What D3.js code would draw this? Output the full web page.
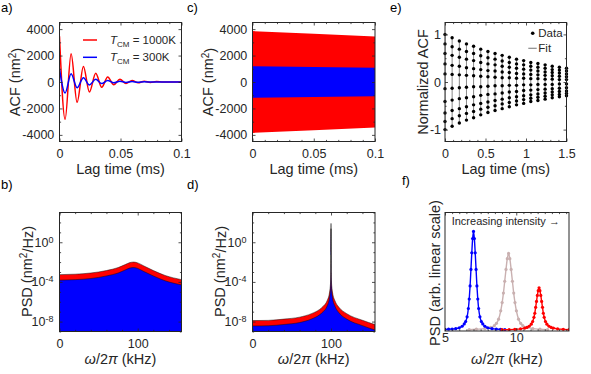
<!DOCTYPE html>
<html>
<head>
<meta charset="utf-8">
<script src="https://cdn.jsdelivr.net/npm/d3@7"></script>
<style>
  body { margin: 0; background: #fff; }
  svg { display: block; font-family: "Liberation Sans", Arial, sans-serif; }
</style>
</head>
<body>
<div id="chart"></div>
<script>
// 1: DATA

// a) ACF vs lag time, turning points of the two traces (ms, nm^2)
const acfLag  = [0, 0.0046, 0.0095, 0.0144, 0.0196, 0.0245, 0.0297, 0.0346, 0.0395, 0.0445,
                 0.0495, 0.0545, 0.0595, 0.0645, 0.0695, 0.0745, 0.0795, 0.085, 0.1];
const acfHot  = [3450, -2820, 2130, -1540, 1180, -760, 670, -400, 380, -210,
                 210, -115, 120, -60, 65, -30, 35, 0, 0];
const acfCold = [1000, -830, 620, -440, 330, -220, 200, -120, 110, -65,
                 60, -35, 35, -18, 18, -8, 8, 0, 0];

// c) envelope of the long-lived ACF (oscillation fills solid at this scale)
const envLag  = [0, 0.05, 0.1];
const envHot  = [3850, 3650, 3450];
const envCold = [1200, 1135, 1070];

// b) PSD, broad resonance (kHz, nm^2/Hz)
const freqB    = [0, 20, 40, 60, 75, 84, 90, 95, 100, 108, 120, 135, 156];
const psdHotB  = [5.4e-4, 6.0e-4, 7.9e-4, 1.4e-3, 2.8e-3, 5.6e-3, 8.9e-3, 1.0e-2, 8.3e-3, 4.0e-3, 1.4e-3, 4.5e-4, 1.7e-4];
const psdColdB = [1.5e-4, 1.7e-4, 2.2e-4, 4.0e-4, 7.9e-4, 1.6e-3, 2.5e-3, 2.8e-3, 2.3e-3, 1.1e-3, 4.0e-4, 1.3e-4, 5.0e-5];

// d) PSD, sharp resonance
const freqD    = [0, 20, 40, 60, 75, 85, 90, 95, 98, 99, 99.5, 99.8, 99.9, 99.97, 100,
                  100.03, 100.1, 100.2, 100.5, 101, 102, 105, 110, 120, 140, 156];
const psdHotD  = [1.26e-8, 1.32e-8, 1.78e-8, 2.8e-8, 6.3e-8, 1.6e-7, 3.5e-7, 1.26e-6, 7.9e-6, 3.2e-5, 1.26e-4, 7.9e-4, 3.2e-3, 0.1, 79,
                  0.1, 3.2e-3, 7.9e-4, 1.26e-4, 3.2e-5, 7.9e-6, 1.26e-6, 2.8e-7, 6.3e-8, 1.35e-8, 5.0e-9];
const psdColdD = [3.6e-9, 3.8e-9, 5.1e-9, 8.0e-9, 1.8e-8, 4.6e-8, 1.0e-7, 3.6e-7, 2.3e-6, 9.1e-6, 3.6e-5, 2.3e-4, 9.1e-4, 0.029, 23,
                  0.029, 9.1e-4, 2.3e-4, 3.6e-5, 9.1e-6, 2.3e-6, 3.6e-7, 8.0e-8, 1.8e-8, 3.9e-9, 1.4e-9];

// e) normalized ACF, samples grouped in one column per aliasing cycle
const eLag = [0, 0.088, 0.177, 0.265, 0.353, 0.441, 0.53, 0.618, 0.706,
              0.794, 0.883, 0.971, 1.059, 1.147, 1.236, 1.324, 1.412, 1.5];
const eCols = [
  [1.00, 0.80, 0.60, 0.38, 0.17, -0.14, -0.41, -0.65, -0.83, -1.00],
  [0.93, 0.74, 0.56, 0.35, 0.16, -0.13, -0.38, -0.60, -0.77, -0.93],
  [0.86, 0.69, 0.52, 0.33, 0.15, -0.12, -0.35, -0.56, -0.71, -0.86],
  [0.80, 0.64, 0.48, 0.30, 0.14, -0.11, -0.33, -0.52, -0.66, -0.80],
  [0.75, 0.60, 0.45, 0.28, 0.13, -0.10, -0.31, -0.48, -0.62, -0.75],
  [0.69, 0.55, 0.41, 0.26, 0.12, -0.10, -0.28, -0.45, -0.57, -0.69],
  [0.64, 0.51, 0.38, 0.24, 0.11, -0.09, -0.26, -0.42, -0.53, -0.64],
  [0.60, 0.48, 0.36, 0.23, 0.10, -0.08, -0.25, -0.39, -0.50, -0.60],
  [0.56, 0.44, 0.33, 0.21, 0.09, -0.08, -0.23, -0.36, -0.46, -0.56],
  [0.52, 0.41, 0.31, 0.20, 0.09, -0.07, -0.21, -0.33, -0.43, -0.52],
  [0.48, 0.38, 0.29, 0.18, 0.08, -0.07, -0.20, -0.31, -0.40, -0.48],
  [0.45, 0.36, 0.27, 0.17, 0.08, -0.06, -0.18, -0.29, -0.37, -0.45],
  [0.41, 0.33, 0.25, 0.16, 0.07, -0.06, -0.17, -0.27, -0.34, -0.41],
  [0.39, 0.31, 0.23, 0.15, 0.07, -0.05, -0.16, -0.25, -0.32, -0.39],
  [0.36, 0.29, 0.21, 0.14, 0.06, -0.05, -0.15, -0.23, -0.30, -0.36],
  [0.33, 0.26, 0.20, 0.13, 0.06, -0.05, -0.14, -0.21, -0.27, -0.33],
  [0.31, 0.25, 0.19, 0.12, 0.05, -0.04, -0.13, -0.20, -0.26, -0.31],
  [0.29, 0.23, 0.17, 0.11, 0.05, -0.04, -0.12, -0.19, -0.24, -0.29]
];

// f) three spectra, arbitrary linear units
const fBlueFreq  = [5.0, 5.25, 5.5, 5.75, 6.0, 6.2, 6.35, 6.45, 6.55, 6.64, 6.7, 6.76, 6.82, 6.88, 6.94, 7.0,
                    7.06, 7.12, 7.18, 7.24, 7.3, 7.36, 7.45, 7.55, 7.65, 7.8, 8.0, 8.3, 8.6, 8.9, 9.2];
const fBlueVal   = [0.013, 0.015, 0.017, 0.02, 0.027, 0.04, 0.06, 0.08, 0.12, 0.19, 0.27, 0.38, 0.52, 0.66, 0.78, 0.84,
                    0.78, 0.66, 0.52, 0.38, 0.27, 0.19, 0.12, 0.08, 0.06, 0.04, 0.027, 0.02, 0.016, 0.014, 0.012];
const fBrownFreq = [6.7, 7.2, 7.8, 8.2, 8.46, 8.61, 8.76, 8.91, 9.01, 9.1, 9.19, 9.28, 9.37, 9.46,
                    9.55, 9.64, 9.73, 9.82, 9.91, 10.01, 10.16, 10.31, 10.46, 10.76, 11.16, 11.66, 12.2];
const fBrownVal  = [0.012, 0.015, 0.02, 0.03, 0.045, 0.065, 0.10, 0.17, 0.24, 0.32, 0.42, 0.52, 0.61, 0.655,
                    0.61, 0.52, 0.42, 0.32, 0.24, 0.17, 0.10, 0.065, 0.045, 0.03, 0.02, 0.015, 0.012];
const fRedFreq   = [9.0, 9.5, 9.9, 10.3, 10.6, 10.75, 10.9, 11.05, 11.15, 11.24, 11.3, 11.36, 11.42, 11.48, 11.54, 11.6,
                    11.66, 11.72, 11.78, 11.84, 11.9, 11.96, 12.05, 12.15, 12.3, 12.45, 12.6, 12.9, 13.3, 13.7];
const fRedVal    = [0.011, 0.012, 0.014, 0.018, 0.025, 0.03, 0.04, 0.058, 0.08, 0.115, 0.15, 0.20, 0.25, 0.30, 0.34, 0.365,
                    0.34, 0.30, 0.25, 0.20, 0.15, 0.115, 0.08, 0.058, 0.04, 0.03, 0.025, 0.018, 0.014, 0.012];

// tick values
const acfTicksY = [-4000, -2000, 0, 2000, 4000];
const acfTicksX = [0, 0.05, 0.1];
const eTicksX   = [0, 0.5, 1, 1.5];
const eTicksY   = [-1, 0, 1];
const psdTicksY = [1e-8, 1e-4, 1];
const psdTicksX = [0, 100];
const fTicksX   = [5, 10];

// 2: SETUP
const ink = "#262626";
const red = "#ff0000", blue = "#0000ff", brown = "#c9b0b0", fitGray = "#8a8a8a";
const tickFont = 12.5, labelFont = 14.5;

const svg = d3.select("#chart").append("svg")
    .attr("width", 591)
    .attr("height", 374);

function makeAxes(id, box, xDomain, yDomain, logY) {
    const g = svg.append("g").attr("transform", `translate(${box.x},${box.y})`);
    const x = d3.scaleLinear().domain(xDomain).range([0, box.w]);
    const y = (logY ? d3.scaleLog() : d3.scaleLinear()).domain(yDomain).range([box.h, 0]);
    g.append("clipPath").attr("id", id)
        .append("rect").attr("width", box.w).attr("height", box.h);
    const plot = g.append("g").attr("clip-path", `url(#${id})`);
    return { g, plot, x, y, box };
}

// MATLAB-style box with inward ticks on all sides
function drawFrame(ax, o) {
    const { g, x, y, box } = ax;
    const sides = [
        [d3.axisBottom, x, `translate(0,${box.h})`, o.xMajor, o.xMinor],
        [d3.axisTop, x, null, o.xMajor, o.xMinor],
        [d3.axisLeft, y, null, o.yMajor, o.yMinor],
        [d3.axisRight, y, `translate(${box.w},0)`, o.yMajor, o.yMinor]
    ];
    sides.forEach(([axisFn, scale, at, major, minor]) => {
        [[major, 3], [minor, 1.6]].forEach(([vals, len]) => {
            if (!vals || !vals.length) return;
            const a = g.append("g").attr("transform", at)
                .call(axisFn(scale).tickValues(vals).tickSize(-len).tickFormat(""));
            a.select(".domain").remove();
            a.selectAll("line").attr("stroke", ink).attr("stroke-width", 0.8);
        });
    });
    g.append("rect")
        .attr("width", box.w).attr("height", box.h)
        .attr("fill", "none").attr("stroke", ink).attr("stroke-width", 1);
}

function tickLabels(ax, o) {
    const { g, x, y, box } = ax;
    if (o.xTicks) {
        const a = g.append("g").attr("transform", `translate(0,${box.h})`)
            .call(d3.axisBottom(x).tickValues(o.xTicks).tickSize(0).tickPadding(o.xPad).tickFormat(d => String(d)));
        a.select(".domain").remove();
        a.attr("font-size", null).attr("font-family", null);
        a.selectAll("text").attr("fill", ink).style("font-size", tickFont + "px");
    }
    if (o.yTicks) {
        const a = g.append("g")
            .call(d3.axisLeft(y).tickValues(o.yTicks).tickSize(0).tickPadding(o.yPad).tickFormat(d => String(d)));
        a.select(".domain").remove();
        a.attr("font-size", null).attr("font-family", null);
        a.selectAll("text").attr("fill", ink).style("font-size", tickFont + "px");
        if (o.logLabels) {
            a.selectAll(".tick text").each(function(d) {
                const t = d3.select(this).text(null);
                t.append("tspan").text("10");
                t.append("tspan").attr("dy", "-0.45em").style("font-size", "9px")
                    .text(String(Math.round(Math.log10(d))));
            });
        }
    }
}

// axis title with optional tspans: parts = [[text, style]]
function axisTitle(px, py, rotate, parts) {
    const t = svg.append("text")
        .attr("transform", `translate(${px},${py})` + (rotate ? " rotate(-90)" : ""))
        .attr("text-anchor", "middle")
        .attr("fill", ink)
        .style("font-size", labelFont + "px");
    parts.forEach(([txt, kind]) => {
        const s = t.append("tspan").text(txt);
        if (kind === "it") s.style("font-style", "italic");
        if (kind === "sup") s.attr("dy", "-0.42em").style("font-size", "10px");
        if (kind === "down") s.attr("dy", "0.42em");
    });
    return t;
}

const omegaLabel = [["ω", "it"], ["/2", null], ["π", "it"], [" (kHz)", null]];
const acfLabel = [["ACF (nm", null], ["2", "sup"], [")", "down"]];
const psdLabel = [["PSD (nm", null], ["2", "sup"], ["/Hz)", "down"]];

function panelLetter(px, py, s) {
    svg.append("text").attr("x", px).attr("y", py)
        .attr("fill", "#000").style("font-size", "13px").text(s);
}

// 3: PANEL a) ACF traces
const boxA = { x: 59.5, y: 22.5, w: 122, h: 119 };
const axA = makeAxes("clipA", boxA, [0, 0.1], [-4500, 4500], false);
const lineA = d3.line().curve(d3.curveMonotoneX);
[[acfHot, red], [acfCold, blue]].forEach(([vals, col]) => {
    axA.plot.append("path")
        .attr("d", lineA(acfLag.map((t, i) => [axA.x(t), axA.y(vals[i])])))
        .attr("fill", "none").attr("stroke", col).attr("stroke-width", 1.5);
});
drawFrame(axA, { xMajor: acfTicksX, xMinor: d3.range(0.01, 0.1, 0.01).filter(v => Math.abs(v - 0.05) > 1e-9),
                 yMajor: acfTicksY, yMinor: [-3000, -1000, 1000, 3000] });
tickLabels(axA, { xTicks: acfTicksX, xPad: 7.6, yTicks: acfTicksY, yPad: 5.2 });

// legend
const legA = [["1000K", red, 40], ["300K", blue, 57.3]];
legA.forEach(([lab, col, ly]) => {
    svg.append("line").attr("x1", 83).attr("x2", 97).attr("y1", ly).attr("y2", ly)
        .attr("stroke", col).attr("stroke-width", 1.5);
    const t = svg.append("text").attr("x", 110).attr("y", ly + 4).attr("fill", ink).style("font-size", "11.5px");
    t.append("tspan").style("font-style", "italic").text("T");
    t.append("tspan").attr("dy", 3).style("font-size", "8px").text("CM");
    t.append("tspan").attr("dy", -3).text(" = " + lab);
});
axisTitle(20, 82, true, acfLabel);
axisTitle(boxA.x + boxA.w / 2, 173.5, false, [["Lag time (ms)", null]]);

// 4: PANEL c) ACF envelopes
const boxC = { x: 252.5, y: 22.5, w: 122.5, h: 119 };
const axC = makeAxes("clipC", boxC, [0, 0.1], [-4500, 4500], false);
[[envHot, red], [envCold, blue]].forEach(([vals, col]) => {
    const area = d3.area()
        .x((d, i) => axC.x(envLag[i]))
        .y0(d => axC.y(-d))
        .y1(d => axC.y(d));
    axC.plot.append("path").attr("d", area(vals)).attr("fill", col);
});
drawFrame(axC, { xMajor: acfTicksX, xMinor: d3.range(0.01, 0.1, 0.01).filter(v => Math.abs(v - 0.05) > 1e-9),
                 yMajor: acfTicksY, yMinor: [-3000, -1000, 1000, 3000] });
tickLabels(axC, { xTicks: acfTicksX, xPad: 7.6, yTicks: acfTicksY, yPad: 5.2 });
axisTitle(213, 82, true, acfLabel);
axisTitle(boxC.x + boxC.w / 2, 173.5, false, [["Lag time (ms)", null]]);

// 5: PANEL e) normalized ACF with fit
const boxE = { x: 445, y: 22.5, w: 121.5, h: 119 };
const axE = makeAxes("clipE", boxE, [0, 1.5], [-1.25, 1.25], false);
const lineE = d3.line();
eCols.forEach((col, i) => {
    axE.plot.append("path")
        .attr("d", lineE(col.map(v => [axE.x(eLag[i]), axE.y(v)])))
        .attr("fill", "none").attr("stroke", fitGray).attr("stroke-width", 1);
});
const ePts = eCols.flatMap((col, i) => col.map(v => ({ t: eLag[i], v })));
axE.g.append("g").selectAll("circle")
    .data(ePts).enter().append("circle")
    .attr("cx", d => axE.x(d.t))
    .attr("cy", d => axE.y(d.v))
    .attr("r", 1.7)
    .attr("fill", "#000");
drawFrame(axE, { xMajor: eTicksX, xMinor: d3.range(0.1, 1.5, 0.1).filter(v => Math.abs(v - 0.5) > 1e-9 && Math.abs(v - 1) > 1e-9),
                 yMajor: eTicksY, yMinor: [-0.5, 0.5] });
tickLabels(axE, { xTicks: eTicksX, xPad: 7.6, yTicks: eTicksY, yPad: 4 });
svg.append("circle").attr("cx", 532.7).attr("cy", 33.3).attr("r", 1.8).attr("fill", "#000");
svg.append("text").attr("x", 538.3).attr("y", 37.3).attr("fill", ink).style("font-size", "11.5px").text("Data");
svg.append("line").attr("x1", 528.3).attr("x2", 536.7).attr("y1", 48.3).attr("y2", 48.3)
    .attr("stroke", fitGray).attr("stroke-width", 1.2);
svg.append("text").attr("x", 538.3).attr("y", 52.3).attr("fill", ink).style("font-size", "11.5px").text("Fit");
axisTitle(428, 82, true, [["Normalized ACF", null]]);
axisTitle(boxE.x + boxE.w / 2, 173.5, false, [["Lag time (ms)", null]]);

// 6: PANELS b) and d) PSD on log scale
function psdPanel(id, box, freqs, hot, cold, labelX) {
    const ax = makeAxes(id, box, [0, 156], [1e-9, 1e3], true);
    [[hot, red], [cold, blue]].forEach(([vals, col]) => {
        const area = d3.area()
            .curve(d3.curveMonotoneX)
            .x((d, i) => ax.x(freqs[i]))
            .y0(box.h + 2)
            .y1(d => ax.y(d));
        ax.plot.append("path").attr("d", area(vals))
            .attr("fill", col).attr("stroke", "#111").attr("stroke-width", 0.5);
    });
    const decades = d3.range(-9, 4).map(p => Math.pow(10, p)).filter(v => !psdTicksY.includes(v));
    drawFrame(ax, { xMajor: psdTicksX, xMinor: [20, 40, 60, 80, 120, 140],
                    yMajor: psdTicksY, yMinor: decades });
    tickLabels(ax, { xTicks: psdTicksX, xPad: 7.6, yTicks: psdTicksY, yPad: 6, logLabels: true });
    axisTitle(labelX, 271.5, true, psdLabel);
    axisTitle(box.x + box.w / 2, 364, false, omegaLabel);
}
psdPanel("clipB", { x: 59.5, y: 212.5, w: 122, h: 119 }, freqB, psdHotB, psdColdB, 31.5);
psdPanel("clipD", { x: 252.5, y: 212.5, w: 122.5, h: 119 }, freqD, psdHotD, psdColdD, 224.5);

// 7: PANEL f) spectra at increasing intensity
const boxF = { x: 445, y: 212.5, w: 124, h: 118.5 };
const axF = makeAxes("clipF", boxF, [5, 13.7], [0, 1], false);
const lineF = d3.line().curve(d3.curveMonotoneX);
[[fBrownFreq, fBrownVal, brown], [fBlueFreq, fBlueVal, blue], [fRedFreq, fRedVal, red]].forEach(([fx, fy, col]) => {
    const pts = fx.map((f, i) => [axF.x(f), axF.y(fy[i])]);
    axF.plot.append("path").attr("d", lineF(pts))
        .attr("fill", "none").attr("stroke", col).attr("stroke-width", 1.4);
    axF.plot.append("g").selectAll("circle")
        .data(pts).enter().append("circle")
        .attr("cx", d => d[0]).attr("cy", d => d[1])
        .attr("r", 1.6).attr("fill", col);
});
drawFrame(axF, { xMajor: fTicksX, xMinor: d3.range(5.5, 13.7, 0.5).filter(v => v !== 10), yMajor: [], yMinor: [] });
tickLabels(axF, { xTicks: fTicksX, xPad: 2.1 });
svg.append("text").attr("x", 451.7).attr("y", 225).attr("fill", ink)
    .style("font-size", "11px").text("Increasing intensity →");
axisTitle(440, 273, true, [["PSD (arb. linear scale)", null]]);
axisTitle(boxF.x + boxF.w / 2, 364, false, omegaLabel);

// 8: PANEL LETTERS
panelLetter(1, 12, "a)");
panelLetter(187, 12, "c)");
panelLetter(390, 12, "e)");
panelLetter(1, 189, "b)");
panelLetter(187, 189, "d)");
panelLetter(402, 185, "f)");
</script>
</body>
</html>
